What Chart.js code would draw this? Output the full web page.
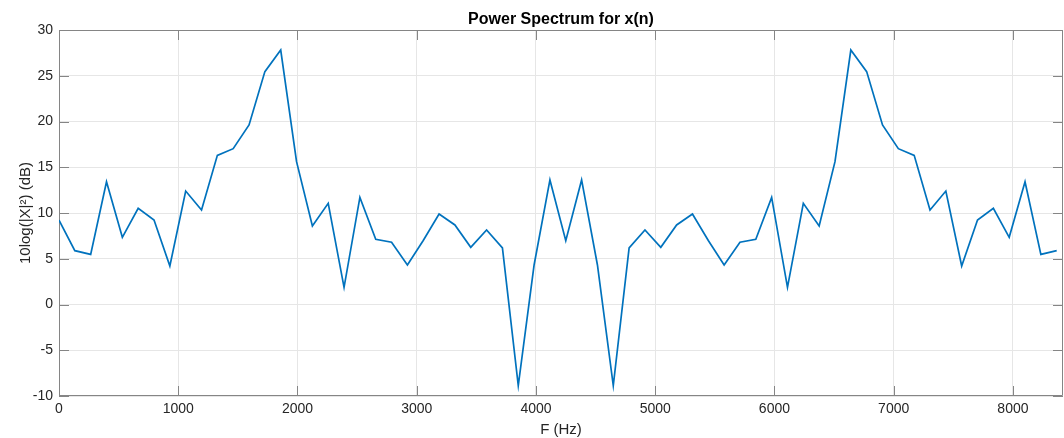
<!DOCTYPE html>
<html>
<head>
<meta charset="utf-8">
<script src="https://cdn.jsdelivr.net/npm/chart.js@4"></script>
<style>
  html, body { margin: 0; padding: 0; background: #fff; }
  #wrap { width: 1064px; height: 438px; position: relative; }
</style>
</head>
<body>
<div id="wrap"><canvas id="spectrum"></canvas></div>
<script>
// frequency bins (Hz)
const freqs = [
    0, 132.8, 265.6, 398.4, 531.3, 664.1, 796.9, 929.7, 1062.5, 1195.3,
    1328.1, 1460.9, 1593.8, 1726.6, 1859.4, 1992.2, 2125.0, 2257.8, 2390.6, 2523.4,
    2656.3, 2789.1, 2921.9, 3054.7, 3187.5, 3320.3, 3453.1, 3585.9, 3718.8, 3851.6,
    3984.4, 4117.2, 4250.0, 4382.8, 4515.6, 4648.4, 4781.3, 4914.1, 5046.9, 5179.7,
    5312.5, 5445.3, 5578.1, 5710.9, 5843.8, 5976.6, 6109.4, 6242.2, 6375.0, 6507.8,
    6640.6, 6773.4, 6906.3, 7039.1, 7171.9, 7304.7, 7437.5, 7570.3, 7703.1, 7835.9,
    7968.8, 8101.6, 8234.4, 8367.2
];
// 10log(|X|^2) in dB
const powerDb = [
    9.23, 5.88, 5.48, 13.42, 7.34, 10.51, 9.23, 4.21, 12.40, 10.33,
    16.30, 17.03, 19.62, 25.45, 27.81, 15.61, 8.58, 11.06, 1.88, 11.71,
    7.12, 6.80, 4.32, 7.00, 9.89, 8.69, 6.25, 8.14, 6.18, -8.87,
    4.32, 13.61, 6.98, 13.61, 4.32, -8.87, 6.18, 8.14, 6.25, 8.69,
    9.89, 7.00, 4.32, 6.80, 7.12, 11.71, 1.88, 11.06, 8.58, 15.61,
    27.81, 25.45, 19.62, 17.03, 16.30, 10.33, 12.40, 4.21, 9.23, 10.51,
    7.34, 13.42, 5.48, 5.88
];
const xTicks = [0, 1000, 2000, 3000, 4000, 5000, 6000, 7000, 8000];
const yTicks = [-10, -5, 0, 5, 10, 15, 20, 25, 30];

const axisColor = '#858585';
const gridColor = '#e6e6e6';
const textColor = '#262626';
const fontFamily = '"Liberation Sans", Arial, sans-serif';

// matlab style box with inward ticks on all sides
const boxTicks = {
    id: 'boxTicks',
    beforeDatasetsDraw(chart) {
        const { ctx, chartArea: a, scales: { x, y } } = chart;
        const len = 10;
        ctx.save();
        ctx.strokeStyle = axisColor;
        ctx.lineWidth = 1;
        ctx.beginPath();
        ctx.rect(a.left + 0.5, a.top + 0.5, a.right - a.left - 1, a.bottom - a.top - 1);
        xTicks.forEach(v => {
            const px = Math.round(x.getPixelForValue(v)) + 0.5;
            ctx.moveTo(px, a.bottom);
            ctx.lineTo(px, a.bottom - len);
            ctx.moveTo(px, a.top);
            ctx.lineTo(px, a.top + len);
        });
        yTicks.forEach(v => {
            const py = Math.round(y.getPixelForValue(v)) + 0.5;
            ctx.moveTo(a.left, py);
            ctx.lineTo(a.left + len, py);
            ctx.moveTo(a.right, py);
            ctx.lineTo(a.right - len, py);
        });
        ctx.stroke();
        ctx.restore();
    }
};

const ctx = document.getElementById('spectrum').getContext('2d');
new Chart(ctx, {
    type: 'line',
    data: {
        datasets: [{
            data: freqs.map((f, i) => ({ x: f, y: powerDb[i] })),
            borderColor: '#0072BD',
            borderWidth: 1.7,
            pointRadius: 0,
            tension: 0,
            fill: false
        }]
    },
    options: {
        responsive: true,
        maintainAspectRatio: false,
        animation: false,
        layout: { padding: { left: 0, right: 1, top: 0, bottom: 0 } },
        plugins: {
            legend: { display: false },
            tooltip: { enabled: false },
            title: {
                display: true,
                fullSize: false,
                text: 'Power Spectrum for x(n)',
                color: '#000',
                font: { family: fontFamily, size: 16, weight: 'bold', lineHeight: 1.2 },
                padding: { top: 10, bottom: 0.8 }
            }
        },
        scales: {
            x: {
                type: 'linear',
                min: 0,
                max: 8420,
                afterBuildTicks: s => { s.ticks = xTicks.map(v => ({ value: v })); },
                afterFit: s => { s.height = 42; },
                grid: { color: gridColor, drawTicks: false },
                border: { display: false },
                ticks: {
                    color: textColor,
                    padding: 5,
                    maxRotation: 0,
                    callback: v => String(v),
                    font: { family: fontFamily, size: 14 }
                },
                title: {
                    display: true,
                    text: 'F (Hz)',
                    color: textColor,
                    font: { family: fontFamily, size: 15, lineHeight: 1 },
                    padding: { top: 0, bottom: 0.5 }
                }
            },
            y: {
                min: -10,
                max: 30,
                afterBuildTicks: s => { s.ticks = yTicks.map(v => ({ value: v })); },
                afterFit: s => { s.width = 59; },
                grid: { color: gridColor, drawTicks: false },
                border: { display: false },
                ticks: {
                    color: textColor,
                    padding: 6,
                    callback: v => String(v),
                    font: { family: fontFamily, size: 14 }
                },
                title: {
                    display: true,
                    text: '10log(|X|²) (dB)',
                    color: textColor,
                    font: { family: fontFamily, size: 15, lineHeight: 1.2 },
                    padding: { top: 17, bottom: 0 }
                }
            }
        }
    },
    plugins: [boxTicks]
});
</script>
</body>
</html>
